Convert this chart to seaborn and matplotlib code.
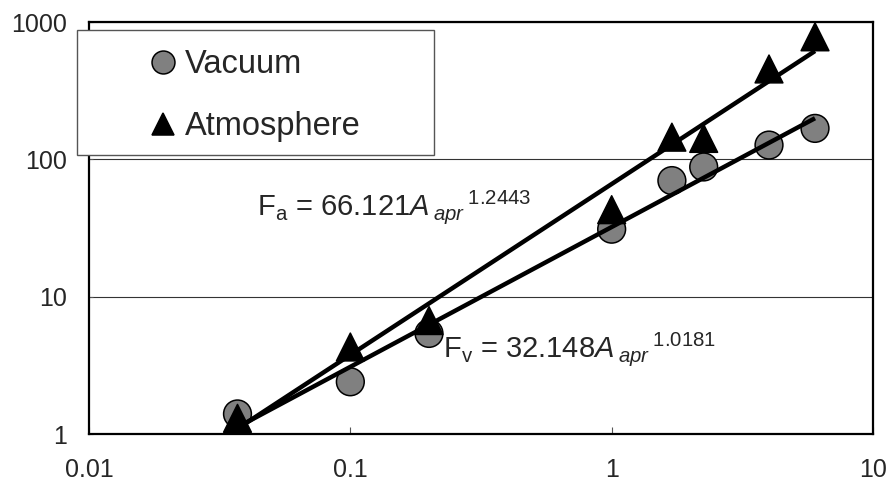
import numpy as np
import pandas as pd
import matplotlib
matplotlib.use("Agg")
import matplotlib.pyplot as plt
from matplotlib.lines import Line2D
from matplotlib.patches import Rectangle
from matplotlib.ticker import FixedLocator, FixedFormatter, NullLocator
import seaborn as sns

# Apparent area A_apr and measured force for both environments
area = [0.037, 0.1, 0.2, 1.0, 1.7, 2.25, 4.0, 6.0]
force_vacuum = [1.4, 2.4, 5.4, 31, 70, 88, 127, 168]
force_atmosphere = [1.3, 4.3, 6.7, 43, 145, 142, 455, 780]

# Power-law trend lines F = c * A^k
fit_vacuum = (32.148, 1.0181)
fit_atmosphere = (66.121, 1.2443)

x_ticks = [0.01, 0.1, 1, 10]
x_tick_labels = ["0.01", "0.1", "1", "10"]
y_ticks = [1, 10, 100, 1000]
y_tick_labels = ["1", "10", "100", "1000"]

sns.set_style("white")
plt.rcParams["font.family"] = ["Liberation Sans", "DejaVu Sans"]
plt.rcParams["mathtext.fontset"] = "custom"
plt.rcParams["mathtext.rm"] = "Liberation Sans"
plt.rcParams["mathtext.it"] = "Liberation Sans:italic"
plt.rcParams["mathtext.bf"] = "Liberation Sans:bold"

W, H = 892, 490
fig = plt.figure(figsize=(W / 100, H / 100), dpi=100)
ax = fig.add_axes([89 / W, 1 - 434 / H, (873 - 89) / W, (434 - 22) / H])

df = pd.DataFrame({
    "area": area * 2,
    "force": force_vacuum + force_atmosphere,
    "series": ["Vacuum"] * len(area) + ["Atmosphere"] * len(area),
})

ax.set_xscale("log")
ax.set_yscale("log")

sns.scatterplot(
    data=df, x="area", y="force", hue="series", style="series",
    markers={"Vacuum": "o", "Atmosphere": "^"},
    palette={"Vacuum": "#808080", "Atmosphere": "black"},
    s=400, edgecolor="black", linewidth=1.1, legend=False, ax=ax, zorder=3,
)

# Trend lines across the measured range
xr = np.array([min(area), max(area)])
for c, k in (fit_atmosphere, fit_vacuum):
    sns.lineplot(x=xr, y=c * xr ** k, color="black", lw=3.2, ax=ax,
                 zorder=4, solid_capstyle="butt")

ax.set_xlim(0.01, 10)
ax.set_ylim(1, 1000)
ax.set_xlabel("")
ax.set_ylabel("")

ax.xaxis.set_major_locator(FixedLocator(x_ticks))
ax.xaxis.set_major_formatter(FixedFormatter(x_tick_labels))
ax.yaxis.set_major_locator(FixedLocator(y_ticks))
ax.yaxis.set_major_formatter(FixedFormatter(y_tick_labels))
ax.xaxis.set_minor_locator(NullLocator())
ax.yaxis.set_minor_locator(NullLocator())

ax.tick_params(axis="x", direction="in", length=5, width=0.8, color="#555555",
               labelsize=18, pad=17, bottom=True)
ax.tick_params(axis="y", direction="in", length=3, width=0.8, color="#555555",
               labelsize=18, pad=16, left=True)

ax.yaxis.grid(True, color="#333333", lw=0.8)
ax.xaxis.grid(False)
ax.set_axisbelow(True)
for sp in ax.spines.values():
    sp.set_visible(True)
    sp.set_color("black")
    sp.set_linewidth(1.6)

# Fit equations
ax.text(0.044, 39.4,
        r"F$_{\mathrm{a}}$ = 66.121$\mathit{A}\,{}_{\mathit{apr}}\,{}^{\mathrm{1.2443}}$",
        fontsize=21, va="baseline", ha="left", zorder=6)
ax.text(0.227, 3.64,
        r"F$_{\mathrm{v}}$ = 32.148$\mathit{A}\,{}_{\mathit{apr}}\,{}^{\mathrm{1.0181}}$",
        fontsize=21, va="baseline", ha="left", zorder=6)

# Legend box
box = Rectangle((77 / W, 1 - 155 / H), (434 - 77) / W, (155 - 30) / H,
                transform=fig.transFigure, facecolor="white",
                edgecolor="#555555", lw=1.0, zorder=1)
fig.add_artist(box)
handles = [
    Line2D([], [], marker="o", ls="", markersize=16.5, markerfacecolor="#808080",
           markeredgecolor="black", markeredgewidth=1.1),
    Line2D([], [], marker="^", ls="", markersize=16.5, markerfacecolor="black",
           markeredgecolor="black", markeredgewidth=1.1),
]
leg = fig.legend(handles, ["Vacuum", "Atmosphere"], loc="upper left",
                 bbox_to_anchor=(150 / W, 1 - 49 / H), frameon=False,
                 borderpad=0, borderaxespad=0, fontsize=23.5, handlelength=0.8,
                 handletextpad=0.27, labelspacing=0.95)
leg.set_zorder(5)

fig.savefig("out.png", dpi=100)
